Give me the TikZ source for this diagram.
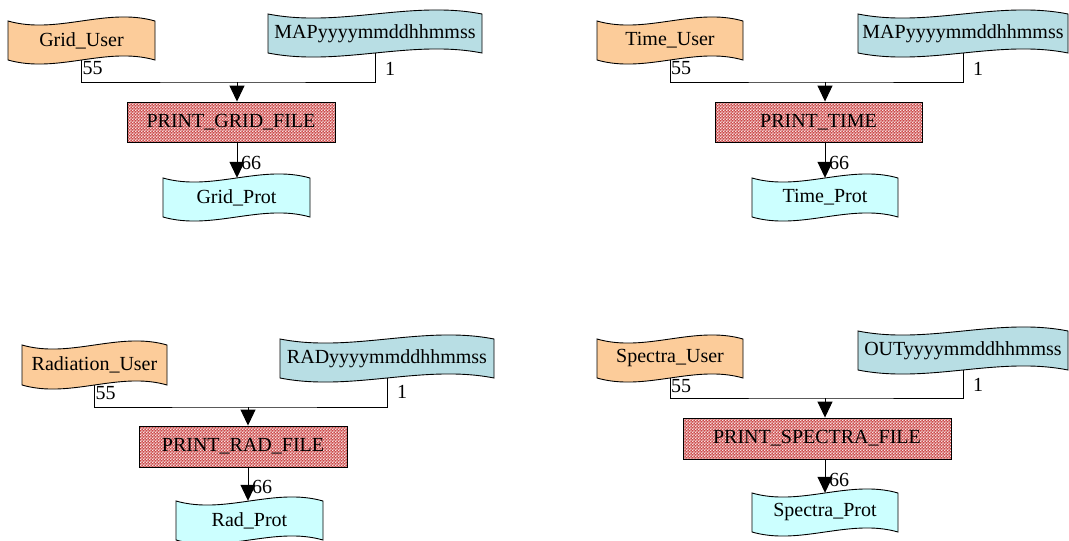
\documentclass[tikz,border=0pt]{standalone}
\usepackage{fontspec}
\setmainfont{Liberation Serif}
\usetikzlibrary{calc,patterns,arrows.meta}
\definecolor{userorange}{HTML}{FCCC9A}
\definecolor{fileblue}{HTML}{B8DEE4}
\definecolor{protcyan}{HTML}{CCFFFF}
\definecolor{procred}{HTML}{CC4A4A}
% fine checker for the process boxes
\pgfdeclarepatternformonly{finecheck}{\pgfpointorigin}{\pgfqpoint{2.8pt}{2.8pt}}{\pgfqpoint{2.8pt}{2.8pt}}{%
  \pgfpathrectangle{\pgfpointorigin}{\pgfqpoint{1.4pt}{1.4pt}}%
  \pgfpathrectangle{\pgfqpoint{1.4pt}{1.4pt}}{\pgfqpoint{1.4pt}{1.4pt}}%
  \pgfusepath{fill}}
% punched tape shape: name, left, top, right, bottom, colour, text
\newcommand{\tapedoc}[7]{%
  \filldraw[fill=#6, line width=0.9pt] (#2,#3)
    .. controls ({#2+(#4-#2)/3},{#3+14}) and ({#2+2*(#4-#2)/3},{#3-14}) .. (#4,#3)
    -- (#4,#5)
    .. controls ({#2+2*(#4-#2)/3},{#5-14}) and ({#2+(#4-#2)/3},{#5+14}) .. (#2,#5) -- cycle;
  \node[inner sep=0pt, minimum width={(#4-#2)*1pt}, minimum height={(#5-#3)*1pt}]
    (#1) at ({(#2+#4)/2},{(#3+#5)/2}) {#7};
}

\begin{document}
\begin{tikzpicture}[x=1pt, y=-1pt,
    every node/.style={font=\fontsize{20}{24}\selectfont},
    proc/.style={draw, line width=0.9pt, preaction={fill=procred},
      pattern=finecheck, pattern color=white!85!procred,
      minimum height=40pt, inner sep=0pt},
    link/.style={line width=1pt},
    flow/.style={line width=1pt, -{Triangle[width=15pt,length=16pt]}},
    num/.style={inner sep=1pt}]
  \useasboundingbox (0,0) rectangle (1069,541);

  % grid
  \tapedoc{gu}{8}{21}{155}{60}{userorange}{Grid\_User}
  \tapedoc{gm}{268}{14}{482}{53}{fileblue}{MAPyyyymmddhhmmss}
  \tapedoc{gp}{163}{178}{310}{217}{protcyan}{Grid\_Prot}
  \node[proc, minimum width=208pt] (pg) at (231,122) {PRINT\_GRID\_FILE};
  \coordinate (gj) at (237,82);
  \draw[link] (gu.south) |- (gj) -| (gm.south);
  \draw[flow] (gj) -- (pg.north -| gj);
  \draw[flow] (pg.south -| gj) -- (gp.north -| gj);
  \node[num, anchor=north west] at (gu.south) {55};
  \node[num, anchor=west] at ($(gm.south)+(9,16)$) {1};
  \node[num, anchor=west] at ($(pg.south -| gj)+(3,21)$) {66};

  % time
  \tapedoc{tu}{597}{21}{743}{60}{userorange}{Time\_User}
  \tapedoc{tm}{858}{14}{1068}{53}{fileblue}{MAPyyyymmddhhmmss}
  \tapedoc{tp}{752}{178}{898}{217}{protcyan}{Time\_Prot}
  \node[proc, minimum width=207pt] (pt) at (818.5,122) {PRINT\_TIME};
  \coordinate (tj) at (825,82);
  \draw[link] (tu.south) |- (tj) -| (tm.south);
  \draw[flow] (tj) -- (pt.north -| tj);
  \draw[flow] (pt.south -| tj) -- (tp.north -| tj);
  \node[num, anchor=north west] at (tu.south) {55};
  \node[num, anchor=west] at ($(tm.south)+(9,16)$) {1};
  \node[num, anchor=west] at ($(pt.south -| tj)+(3,21)$) {66};

  % radiation
  \tapedoc{ru}{22}{345}{167}{385}{userorange}{Radiation\_User}
  \tapedoc{rm}{280}{339}{494}{378}{fileblue}{RADyyyymmddhhmmss}
  \tapedoc{rp}{176}{501}{323}{540}{protcyan}{Rad\_Prot}
  \node[proc, minimum width=208pt, minimum height=41pt] (pr) at (243,446.5) {PRINT\_RAD\_FILE};
  \coordinate (rj) at (248,407);
  \draw[link] (ru.south) |- (rj) -| (rm.south);
  \draw[flow] (rj) -- (pr.north -| rj);
  \draw[flow] (pr.south -| rj) -- (rp.north -| rj);
  \node[num, anchor=north west] at (ru.south) {55};
  \node[num, anchor=west] at ($(rm.south)+(9,14)$) {1};
  \node[num, anchor=west] at ($(pr.south -| rj)+(3,20)$) {66};

  % spectra
  \tapedoc{su}{597}{339}{743}{378}{userorange}{Spectra\_User}
  \tapedoc{sm}{858}{331}{1068}{370}{fileblue}{OUTyyyymmddhhmmss}
  \tapedoc{sp}{752}{493}{898}{532}{protcyan}{Spectra\_Prot}
  \node[proc, minimum width=268pt, minimum height=41pt] (ps) at (817,438.5) {PRINT\_SPECTRA\_FILE};
  \coordinate (sj) at (825,398);
  \draw[link] (su.south) |- (sj) -| (sm.south);
  \draw[flow] (sj) -- (ps.north -| sj);
  \draw[flow] (ps.south -| sj) -- (sp.north -| sj);
  \node[num, anchor=north west] at (su.south) {55};
  \node[num, anchor=west] at ($(sm.south)+(9,15)$) {1};
  \node[num, anchor=west] at ($(ps.south -| sj)+(3,21)$) {66};
\end{tikzpicture}
\end{document}
